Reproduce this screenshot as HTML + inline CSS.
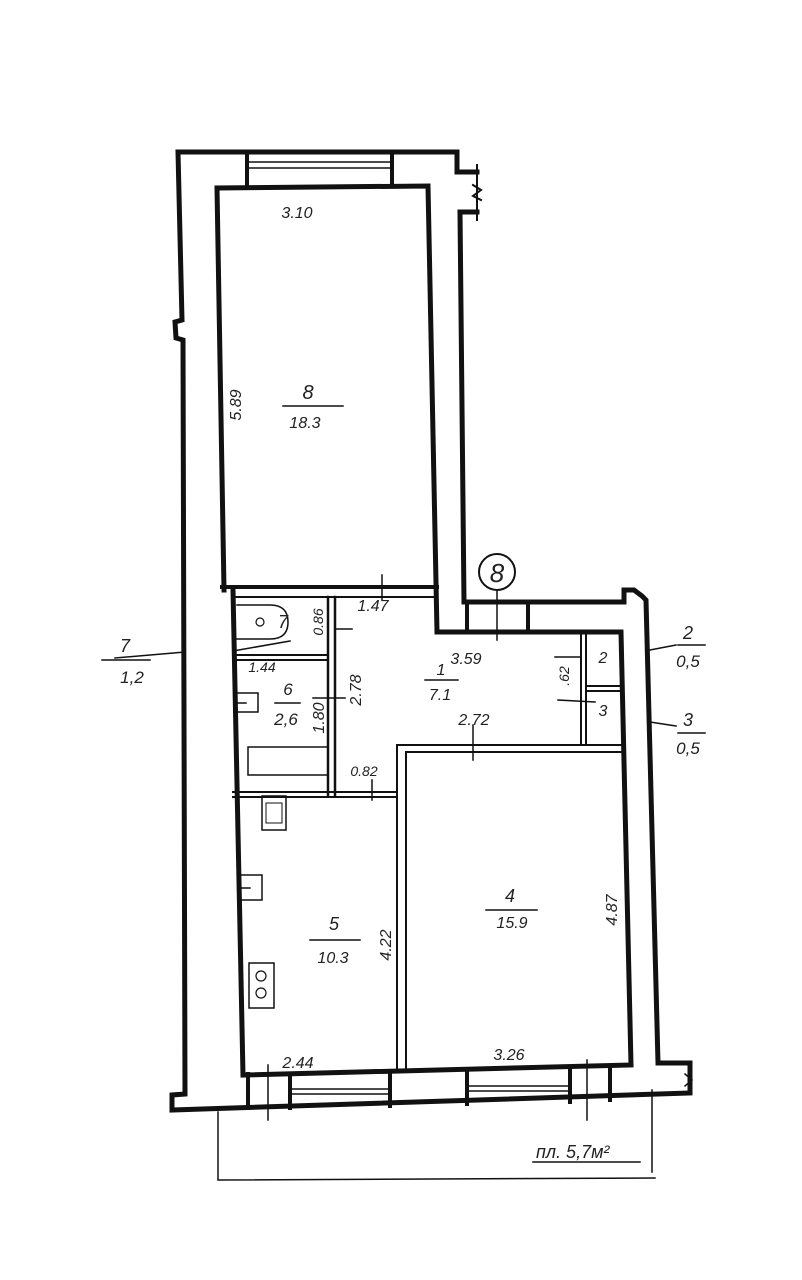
<!DOCTYPE html>
<html><head><meta charset="utf-8"><style>
html,body{margin:0;padding:0;background:#fff}
svg{display:block}
text{font-family:"Liberation Sans",sans-serif;font-style:italic;fill:#222}
</style></head><body>
<svg width="802" height="1280" viewBox="0 0 802 1280" xmlns="http://www.w3.org/2000/svg">
<g fill="none" stroke="#111" stroke-linecap="square" stroke-linejoin="miter">
<!-- outer outline -->
<path d="M477,212 L460,212 L464,602 L624,602 L624,590 L634,590 L642,596 L646,600 L658,1063 L690,1063 L690,1093 L172,1110 L172,1095 L185,1094 L183,340 L176,338 L175,322 L182,320 L178,152 L457,152 L457,172 L477,172" stroke-width="5"/>
<path d="M477,165 L477,220 M473,185 L481,190 L473,196 L481,200" stroke-width="2"/>
<!-- top window -->
<path d="M247,152 L247,186 M392,152 L392,186" stroke-width="4"/>
<path d="M249,162 L390,162 M249,168 L390,168" stroke-width="1.5"/>
<!-- room 8 + lower rooms inner outline -->
<path d="M224,590 L217,188 L428,186 L437,632 L621,632 L631,1065 L243,1075 L233,590" stroke-width="5"/>
<path d="M222,587 L437,587" stroke-width="4"/>
<path d="M233,597 L437,597" stroke-width="2"/>
<!-- window near circle -->
<path d="M467,602 L467,632 M528,602 L528,632" stroke-width="4"/>
<!-- toilet / bath partition -->
<path d="M233,655 L328,655 M233,660 L328,660" stroke-width="2"/>
<path d="M328,597 L328,795 M335,597 L335,795" stroke-width="2.5"/>
<path d="M233,792 L397,792 M233,797 L397,797" stroke-width="2"/>
<!-- room 1/4 partition -->
<path d="M397,745 L397,1070 M406,752 L406,1068" stroke-width="2"/>
<path d="M397,745 L621,745 M406,752 L621,752" stroke-width="2"/>
<!-- rooms 2,3 -->
<path d="M581,632 L581,745 M586,632 L586,745" stroke-width="2"/>
<path d="M586,686 L621,686 M586,691 L621,691" stroke-width="2"/>
<!-- bottom windows -->
<path d="M248,1074 L248,1108 M290,1074 L290,1108 M390,1072 L390,1106 M467,1070 L467,1104 M570,1068 L570,1102 M610,1066 L610,1100" stroke-width="4"/>
<path d="M292,1089 L388,1089 M292,1094 L388,1094 M469,1086 L568,1086 M469,1091 L568,1091" stroke-width="1.5"/>
<path d="M685,1074 L692,1080 L685,1086" stroke-width="1.5"/>
<!-- dimension lines -->
<path d="M218,1112 L218,1180 L655,1178 M652,1090 L652,1172" stroke-width="1.5"/>
<path d="M533,1162 L640,1162" stroke-width="1.5"/>
<path d="M115,658 L185,652 M650,650 L676,645 M650,722 L676,726" stroke-width="1.5"/>
<path d="M102,660 L150,660 M678,645 L705,645 M678,733 L705,733" stroke-width="1.5"/>
<path d="M283,406 L343,406 M275,703 L300,703 M425,680 L458,680 M310,940 L360,940 M486,910 L537,910" stroke-width="1.5"/>
<!-- tick lines -->
<path d="M382,575 L382,600 M497,590 L497,640 M473,725 L473,760 M372,780 L372,800 M268,1065 L268,1120 M587,1060 L587,1120 M335,629 L352,629 M313,698 L345,698 M555,657 L580,657 M558,700 L595,702 M233,651 L290,641" stroke-width="1.5"/>
<!-- fixtures -->
<path d="M237,605 L270,605 Q288,605 288,622 Q288,639 270,639 L237,639" stroke-width="1.5"/>
<circle cx="260" cy="622" r="4" stroke-width="1.2"/>
<path d="M236,693 L258,693 L258,712 L236,712 M236,703 L246,703" stroke-width="1.5"/>
<rect x="248" y="747" width="80" height="28" stroke-width="1.5"/>
<rect x="262" y="796" width="24" height="34" stroke-width="1.5"/>
<rect x="266" y="803" width="16" height="20" stroke-width="1"/>
<path d="M238,875 L262,875 L262,900 L238,900 M238,888 L250,888" stroke-width="1.5"/>
<rect x="249" y="963" width="25" height="45" stroke-width="1.5"/>
<circle cx="261" cy="976" r="5" stroke-width="1.2"/><circle cx="261" cy="993" r="5" stroke-width="1.2"/>
<circle cx="497" cy="572" r="18" stroke-width="2"/>
</g>
<g font-size="16">
<text x="297" y="218" text-anchor="middle">3.10</text>
<text transform="translate(241,405) rotate(-90)" text-anchor="middle">5.89</text>
<text x="308" y="399" text-anchor="middle" font-size="20">8</text>
<text x="305" y="428" text-anchor="middle">18.3</text>
<text x="373" y="611" text-anchor="middle">1.47</text>
<text transform="translate(323,622) rotate(-90)" text-anchor="middle" font-size="14">0.86</text>
<text x="283" y="628" text-anchor="middle" font-size="18">7</text>
<text x="262" y="672" text-anchor="middle" font-size="14">1.44</text>
<text x="288" y="695" text-anchor="middle" font-size="17">6</text>
<text x="286" y="725" text-anchor="middle" font-size="17">2,6</text>
<text transform="translate(324,718) rotate(-90)" text-anchor="middle">1.80</text>
<text transform="translate(361,690) rotate(-90)" text-anchor="middle">2.78</text>
<text x="441" y="675" text-anchor="middle">1</text>
<text x="440" y="700" text-anchor="middle">7.1</text>
<text x="466" y="664" text-anchor="middle">3.59</text>
<text x="603" y="663" text-anchor="middle">2</text>
<text transform="translate(569,676) rotate(-90)" text-anchor="middle" font-size="14">.62</text>
<text x="603" y="716" text-anchor="middle">3</text>
<text x="474" y="725" text-anchor="middle">2.72</text>
<text x="364" y="776" text-anchor="middle" font-size="14">0.82</text>
<text x="334" y="930" text-anchor="middle" font-size="18">5</text>
<text x="333" y="963" text-anchor="middle">10.3</text>
<text transform="translate(391,945) rotate(-90)" text-anchor="middle">4.22</text>
<text x="510" y="902" text-anchor="middle" font-size="18">4</text>
<text x="512" y="928" text-anchor="middle">15.9</text>
<text transform="translate(617,910) rotate(-90)" text-anchor="middle">4.87</text>
<text x="298" y="1068" text-anchor="middle">2.44</text>
<text x="509" y="1060" text-anchor="middle">3.26</text>
<text x="497" y="582" text-anchor="middle" font-size="26" font-style="normal">8</text>
<text x="125" y="652" text-anchor="middle" font-size="18" font-style="normal">7</text>
<text x="132" y="683" text-anchor="middle" font-size="17" font-style="normal">1,2</text>
<text x="688" y="639" text-anchor="middle" font-size="18" font-style="normal">2</text>
<text x="688" y="667" text-anchor="middle" font-size="17" font-style="normal">0,5</text>
<text x="688" y="726" text-anchor="middle" font-size="18" font-style="normal">3</text>
<text x="688" y="754" text-anchor="middle" font-size="17" font-style="normal">0,5</text>
<text x="536" y="1158" font-size="18">пл. 5,7м²</text>
</g>
</svg>
</body></html>
